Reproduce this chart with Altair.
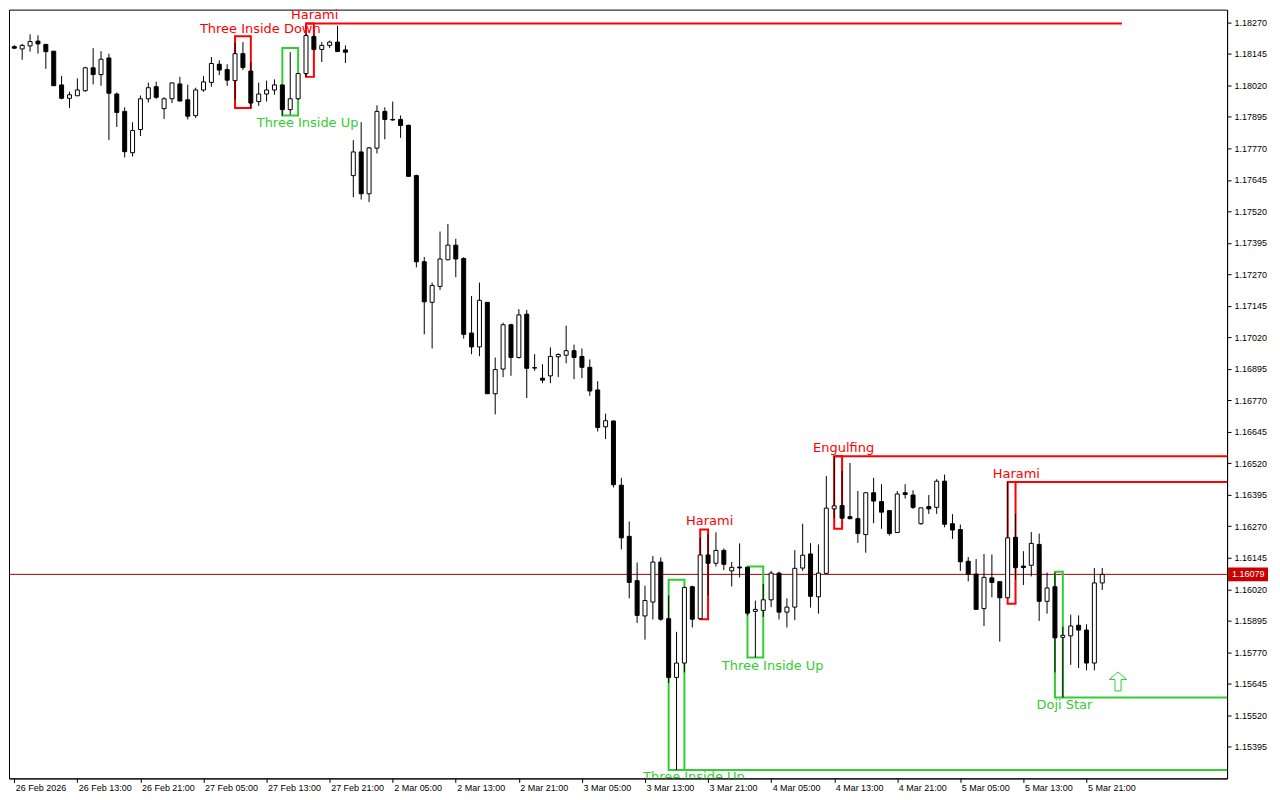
import json
import altair as alt
import pandas as pd

# ---------------- data ----------------
x_labels = ["26 Feb 2026", "26 Feb 13:00", "26 Feb 21:00", "27 Feb 05:00", "27 Feb 13:00",
            "27 Feb 21:00", "2 Mar 05:00", "2 Mar 13:00", "2 Mar 21:00", "3 Mar 05:00",
            "3 Mar 13:00", "3 Mar 21:00", "4 Mar 05:00", "4 Mar 13:00", "4 Mar 21:00",
            "5 Mar 05:00", "5 Mar 13:00", "5 Mar 21:00"]

y_ticks = [1.15395, 1.15520, 1.15645, 1.15770, 1.15895, 1.16020, 1.16145, 1.16270,
           1.16395, 1.16520, 1.16645, 1.16770, 1.16895, 1.17020, 1.17145, 1.17270,
           1.17395, 1.17520, 1.17645, 1.17770, 1.17895, 1.18020, 1.18145, 1.18270]

opens = [1.18174, 1.18165, 1.18177, 1.18196, 1.18183, 1.18156, 1.18022, 1.17969, 1.17979, 1.17999,
         1.18090, 1.18063, 1.18129, 1.17986, 1.17917, 1.17753, 1.17845, 1.17967, 1.18015, 1.17928,
         1.17967, 1.18026, 1.17963, 1.17900, 1.18002, 1.18032, 1.18104, 1.18083, 1.18039, 1.18146,
         1.18077, 1.17956, 1.17986, 1.18002, 1.18022, 1.17924, 1.17967, 1.18067, 1.18214, 1.18163,
         1.18179, 1.18192, 1.18161, 1.17662, 1.17756, 1.17590, 1.17771, 1.17917, 1.17885, 1.17885,
         1.17862, 1.17662, 1.17320, 1.17159, 1.17222, 1.17328, 1.17386, 1.17333, 1.17037, 1.16982,
         1.17159, 1.16796, 1.16894, 1.17070, 1.16940, 1.17112, 1.16900, 1.16858, 1.16867, 1.16943,
         1.16949, 1.16967, 1.16944, 1.16901, 1.16811, 1.16665, 1.16688, 1.16433, 1.16230, 1.16054,
         1.15914, 1.15969, 1.16128, 1.15903, 1.15670, 1.15727, 1.16030, 1.15903, 1.16156, 1.16123,
         1.16174, 1.16093, 1.16108, 1.16107, 1.15932, 1.15936, 1.15978, 1.16084, 1.15929, 1.15949,
         1.16104, 1.16160, 1.15990, 1.16083, 1.16339, 1.16352, 1.16308, 1.16300, 1.16237, 1.16403,
         1.16368, 1.16332, 1.16245, 1.16403, 1.16394, 1.16280, 1.16348, 1.16345, 1.16449, 1.16280,
         1.16257, 1.16131, 1.16080, 1.15943, 1.16065, 1.16050, 1.15986, 1.16226, 1.16112, 1.16115,
         1.16198, 1.15972, 1.16030, 1.15829, 1.15835, 1.15877, 1.15858, 1.15727, 1.16045]

highs = [1.18180, 1.18185, 1.18223, 1.18219, 1.18184, 1.18156, 1.18058, 1.17995, 1.18048, 1.18094,
         1.18168, 1.18156, 1.18146, 1.17992, 1.17933, 1.17874, 1.17980, 1.18031, 1.18035, 1.17973,
         1.18031, 1.18054, 1.18023, 1.18011, 1.18057, 1.18133, 1.18120, 1.18104, 1.18189, 1.18192,
         1.18113, 1.18031, 1.18039, 1.18044, 1.18023, 1.18152, 1.18070, 1.18224, 1.18222, 1.18192,
         1.18198, 1.18257, 1.18179, 1.17803, 1.17874, 1.17776, 1.17941, 1.17933, 1.17956, 1.17901,
         1.17864, 1.17666, 1.17339, 1.17237, 1.17440, 1.17470, 1.17411, 1.17338, 1.17184, 1.17237,
         1.17160, 1.16940, 1.17078, 1.17074, 1.17132, 1.17129, 1.16953, 1.16913, 1.16980, 1.16956,
         1.17066, 1.16991, 1.16976, 1.16932, 1.16846, 1.16717, 1.16689, 1.16462, 1.16289, 1.16126,
         1.16034, 1.16152, 1.16146, 1.15995, 1.15851, 1.16030, 1.16034, 1.16224, 1.16238, 1.16246,
         1.16182, 1.16128, 1.16202, 1.16109, 1.15975, 1.16041, 1.16093, 1.16090, 1.15984, 1.16175,
         1.16280, 1.16203, 1.16198, 1.16470, 1.16548, 1.16489, 1.16521, 1.16410, 1.16404, 1.16462,
         1.16437, 1.16333, 1.16410, 1.16437, 1.16413, 1.16344, 1.16394, 1.16457, 1.16475, 1.16318,
         1.16277, 1.16148, 1.16140, 1.16160, 1.16158, 1.16051, 1.16446, 1.16319, 1.16171, 1.16247,
         1.16241, 1.16086, 1.16086, 1.15871, 1.15919, 1.15916, 1.15881, 1.16104, 1.16104]

lows = [1.18164, 1.18122, 1.18154, 1.18146, 1.18086, 1.18018, 1.17965, 1.17930, 1.17978, 1.17995,
        1.18024, 1.18019, 1.17803, 1.17855, 1.17734, 1.17738, 1.17819, 1.17952, 1.17967, 1.17887,
        1.17950, 1.17958, 1.17885, 1.17891, 1.17995, 1.18015, 1.18061, 1.18018, 1.17965, 1.18081,
        1.17930, 1.17939, 1.17956, 1.17983, 1.17900, 1.17904, 1.17963, 1.18054, 1.18159, 1.18113,
        1.18169, 1.18152, 1.18109, 1.17576, 1.17567, 1.17557, 1.17750, 1.17806, 1.17880, 1.17812,
        1.17658, 1.17298, 1.17032, 1.16976, 1.17208, 1.17326, 1.17259, 1.17015, 1.16953, 1.16945,
        1.16795, 1.16714, 1.16862, 1.16867, 1.16936, 1.16779, 1.16887, 1.16838, 1.16838, 1.16862,
        1.16917, 1.16854, 1.16858, 1.16788, 1.16646, 1.16616, 1.16424, 1.16178, 1.15984, 1.15886,
        1.15820, 1.15900, 1.15895, 1.15648, 1.15302, 1.15690, 1.15868, 1.15901, 1.15995, 1.16110,
        1.16096, 1.16031, 1.16067, 1.15916, 1.15749, 1.15910, 1.15949, 1.15900, 1.15868, 1.15897,
        1.16093, 1.15947, 1.15923, 1.16082, 1.16302, 1.16301, 1.16298, 1.16204, 1.16165, 1.16282,
        1.16260, 1.16233, 1.16244, 1.16380, 1.16339, 1.16276, 1.16319, 1.16319, 1.16266, 1.16220,
        1.16093, 1.16051, 1.15939, 1.15874, 1.15988, 1.15812, 1.15985, 1.16058, 1.16037, 1.16071,
        1.15894, 1.15923, 1.15690, 1.15590, 1.15720, 1.15707, 1.15698, 1.15698, 1.16017]

closes = [1.18168, 1.18179, 1.18194, 1.18185, 1.18154, 1.18019, 1.17969, 1.17983, 1.18002, 1.18090,
          1.18063, 1.18124, 1.17989, 1.17913, 1.17757, 1.17841, 1.17967, 1.18011, 1.17973, 1.17967,
          1.18030, 1.17958, 1.17898, 1.18002, 1.18034, 1.18107, 1.18081, 1.18041, 1.18146, 1.18091,
          1.17950, 1.17986, 1.18002, 1.18022, 1.17924, 1.17967, 1.18067, 1.18218, 1.18163, 1.18179,
          1.18192, 1.18155, 1.18152, 1.17756, 1.17590, 1.17772, 1.17917, 1.17885, 1.17883, 1.17861,
          1.17659, 1.17320, 1.17161, 1.17226, 1.17331, 1.17386, 1.17331, 1.17032, 1.16982, 1.17167,
          1.16796, 1.16892, 1.17070, 1.16940, 1.17109, 1.16897, 1.16898, 1.16850, 1.16944, 1.16952,
          1.16967, 1.16940, 1.16901, 1.16807, 1.16662, 1.16689, 1.16435, 1.16224, 1.16047, 1.15916,
          1.15975, 1.16128, 1.15901, 1.15670, 1.15727, 1.16027, 1.15901, 1.16156, 1.16123, 1.16174,
          1.16119, 1.16107, 1.16105, 1.15925, 1.15940, 1.15978, 1.16084, 1.15929, 1.15949, 1.16103,
          1.16155, 1.15992, 1.16084, 1.16342, 1.16351, 1.16302, 1.16300, 1.16241, 1.16403, 1.16370,
          1.16326, 1.16241, 1.16398, 1.16396, 1.16345, 1.16343, 1.16339, 1.16449, 1.16278, 1.16255,
          1.16129, 1.16080, 1.15940, 1.16067, 1.16047, 1.15986, 1.16224, 1.16106, 1.16106, 1.16202,
          1.15972, 1.16025, 1.15827, 1.15837, 1.15874, 1.15858, 1.15727, 1.16045, 1.16079]

# candle patterns (bar index span, high / low of the box, colour)
box_k1 = [28, 34, 37, 83, 87, 93, 104, 126, 132]
box_k2 = [30, 36, 38, 85, 88, 95, 105, 127, 133]
box_top = [1.18215, 1.18169, 1.18266, 1.16058, 1.16257, 1.16110, 1.16548, 1.16446, 1.16089]
box_bottom = [1.17930, 1.17901, 1.18054, 1.15302, 1.15901, 1.15749, 1.16260, 1.15962, 1.15590]
box_color = ["#FF0000", "#32CD32", "#FF0000", "#32CD32", "#FF0000", "#32CD32", "#FF0000", "#FF0000", "#32CD32"]

# support / resistance levels drawn from the patterns
level_price = [1.18266, 1.15302, 1.16548, 1.16446, 1.15590]
level_k1 = [37, 85, 104, 126, 133]
level_k2 = [140.5, 160, 160, 160, 160]
level_color = ["#FF0000", "#32CD32", "#FF0000", "#FF0000", "#32CD32"]

# pattern names (the last one sits on the bottom edge and is cut by it)
label_text = ["Three Inside Down", "Harami", "Three Inside Up", "Harami", "Three Inside Up",
              "Engulfing", "Harami", "Doji Star"]
label_k = [31.2, 38.1, 37.2, 88.2, 96.2, 105.2, 127.1, 133.2]
label_price = [1.18243, 1.18298, 1.17870, 1.16289, 1.15716, 1.16579, 1.16477, 1.15559]
label_color = ["#FF0000", "#FF0000", "#32CD32", "#FF0000", "#32CD32", "#FF0000", "#FF0000", "#32CD32"]

edge_label_text = ["Three Inside Up"]
edge_label_k = [86.2]
edge_label_price = [1.15273]
edge_label_color = ["#32CD32"]

arrow_k = [140]
arrow_price = [1.15654]

current_price = 1.16079

# ---------------- chart ----------------
W, H = 1220, 770
X_DOMAIN = [-0.04, 153.2]
Y_DOMAIN = [1.15269, 1.18321]
FONT = "Liberation Sans"

candles = pd.DataFrame({"k": list(range(len(opens))), "open": opens, "high": highs,
                        "low": lows, "close": closes})
boxes = pd.DataFrame({"k1": box_k1, "k2": box_k2, "top": box_top, "bottom": box_bottom, "color": box_color})
levels = pd.DataFrame({"k1": level_k1, "k2": level_k2, "price": level_price, "color": level_color})
labels = pd.DataFrame({"k": label_k, "price": label_price, "text": label_text, "color": label_color})
edge_labels = pd.DataFrame({"k": edge_label_k, "price": edge_label_price, "text": edge_label_text,
                            "color": edge_label_color})
arrows = pd.DataFrame({"k": arrow_k, "price": arrow_price})
cur = pd.DataFrame({"price": [current_price], "label": [f"{current_price:.5f}"]})

xscale = alt.Scale(domain=X_DOMAIN, nice=False, zero=False)
yscale = alt.Scale(domain=Y_DOMAIN, nice=False, zero=False)
label_expr = json.dumps(x_labels) + "[round(datum.value / 8)]"
xaxis = alt.Axis(values=list(range(0, len(x_labels) * 8, 8)), labelExpr=label_expr,
                 labelAlign="left", labelOffset=1, labelPadding=1, tickSize=4, grid=False,
                 domainColor="black", tickColor="black", labelColor="black", labelFont=FONT,
                 labelFontSize=9, labelOverlap=False, labelFlush=False, title=None)
yaxis = alt.Axis(orient="right", values=y_ticks, format=".5f", tickSize=4, labelPadding=3,
                 grid=False, domainColor="black", tickColor="black", labelColor="black",
                 labelFont=FONT, labelFontSize=9, labelOverlap=False, labelFlush=False, title=None)


def X(f):
    return alt.X(f, type="quantitative", scale=xscale, axis=xaxis)


def Y(f):
    return alt.Y(f, type="quantitative", scale=yscale, axis=yaxis)


price_line = alt.Chart(cur).mark_rule(color="#A00000", strokeWidth=1).encode(y=Y("price"))

box_layer = alt.Chart(boxes).mark_rect(fillOpacity=0, strokeWidth=2, clip=True).encode(
    x=X("k1"), x2="k2", y=Y("top"), y2="bottom",
    stroke=alt.Stroke("color:N", scale=None))

level_layer = alt.Chart(levels).mark_rule(strokeWidth=2, clip=True).encode(
    x=X("k1"), x2="k2", y=Y("price"),
    stroke=alt.Stroke("color:N", scale=None))

wicks = alt.Chart(candles).mark_rule(color="black", strokeWidth=1, clip=True).encode(
    x=X("k"), y=Y("low"), y2="high")

bodies = alt.Chart(candles).mark_bar(size=4, stroke="black", strokeWidth=1, clip=True).encode(
    x=X("k"), y=Y("open"), y2="close",
    fill=alt.condition("datum.close >= datum.open", alt.value("white"), alt.value("black")))

label_layer = alt.Chart(labels).mark_text(font="DejaVu Sans", fontSize=13, baseline="middle",
                                          align="center").encode(
    x=X("k"), y=Y("price"), text="text:N",
    color=alt.Color("color:N", scale=None))

edge_label_layer = alt.Chart(edge_labels).mark_text(font="DejaVu Sans", fontSize=13,
                                                    baseline="middle", align="center",
                                                    clip=True).encode(
    x=X("k"), y=Y("price"), text="text:N",
    color=alt.Color("color:N", scale=None))

arrow_path = "M0,-1 L0.9,-0.2 L0.32,-0.2 L0.32,1 L-0.32,1 L-0.32,-0.2 L-0.9,-0.2 Z"
arrow_layer = alt.Chart(arrows).mark_point(shape=arrow_path, size=361, filled=True, fill="white",
                                           stroke="#32CD32", strokeWidth=1, opacity=1).encode(
    x=X("k"), y=Y("price"))

tag = alt.Chart(cur).mark_tick(orient="horizontal", size=40, thickness=14, color="#C80000",
                               opacity=1).encode(x=alt.value(W + 21), y=Y("price"))
tag_text = alt.Chart(cur).mark_text(align="left", baseline="middle", color="white", font=FONT,
                                    fontSize=9).encode(x=alt.value(W + 5), y=Y("price"), text="label:N")

chart = alt.layer(price_line, box_layer, level_layer, wicks, bodies, label_layer, edge_label_layer,
                  arrow_layer, tag, tag_text).properties(
    width=W, height=H,
    padding={"left": 0, "top": 0, "right": 4, "bottom": 0},
).configure(background="white").configure_view(stroke="black", strokeWidth=1)

chart.save("out.html", embed_options={"renderer": "svg", "actions": False})
